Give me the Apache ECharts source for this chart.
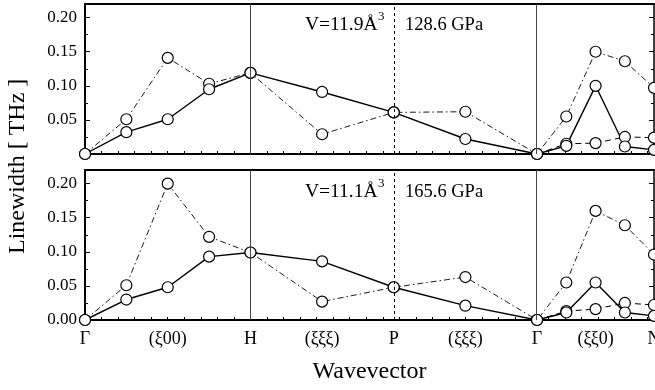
<!DOCTYPE html>
<html>
<head>
<meta charset="utf-8">
<script src="https://cdn.jsdelivr.net/npm/echarts@6/dist/echarts.min.js"></script>
<style>
html,body{margin:0;padding:0;background:#fff;}
#c{width:655px;height:390px;}
</style>
</head>
<body>
<div id="c"></div>
<script>
// wavevector positions (units of 2π/a along Γ-H-P-Γ-N)
const xPos = [0, 0.25, 0.5, 0.75, 1, 1.433, 1.866, 2.299, 2.732, 2.909, 3.086, 3.263, 3.439];
const xPosGN = [2.732, 2.909, 3.086, 3.263, 3.439];
const symPos = [1, 1.866, 2.732];            // H, P, Γ vertical lines
const tickLabelPos = [0, 0.5, 1, 1.433, 1.866, 2.299, 2.732, 3.086, 3.439];
const tickLabels = ['Γ', '(ξ00)', 'H', '(ξξξ)', 'P', '(ξξξ)', 'Γ', '(ξξ0)', 'N'];

// top panel: V=11.9 Å^3, 128.6 GPa
const topSolid   = [0, 0.032, 0.051, 0.095, 0.119, 0.091, 0.061, 0.022, 0, 0.012, 0.100, 0.011, 0.006];
const topDashDot = [0, 0.051, 0.141, 0.103, 0.119, 0.029, 0.061, 0.062, 0, 0.055, 0.150, 0.136, 0.097];
const topDashed  = [0, 0.015, 0.016, 0.025, 0.024];

// bottom panel: V=11.1 Å^3, 165.6 GPa
const botSolid   = [0, 0.030, 0.048, 0.093, 0.099, 0.086, 0.048, 0.021, 0, 0.011, 0.055, 0.011, 0.006];
const botDashDot = [0, 0.051, 0.200, 0.122, 0.099, 0.027, 0.048, 0.063, 0, 0.055, 0.160, 0.139, 0.096];
const botDashed  = [0, 0.013, 0.016, 0.025, 0.022];

const FONT = '"Liberation Serif", "DejaVu Serif", serif';
const chart = echarts.init(document.getElementById('c'), null, {renderer: 'canvas'});

function pairs(xs, ys) { return xs.map((x, i) => [x, ys[i]]); }

function xBottom(gi, withLabels) {
  return {
    type: 'value', gridIndex: gi, position: 'bottom', min: 0, max: 3.439, interval: 0.1,
    axisLine: {show: true, onZero: false, lineStyle: {color: '#000', width: 2}},
    axisTick: {show: true, inside: true, length: 3, lineStyle: {color: '#000', width: 1}},
    splitLine: {show: false},
    axisLabel: withLabels ? {
      show: true, customValues: tickLabelPos, margin: 10, hideOverlap: false,
      color: '#000', fontFamily: FONT, fontSize: 18,
      formatter: function (v) {
        for (let i = 0; i < tickLabelPos.length; i++) if (Math.abs(tickLabelPos[i] - v) < 1e-6) return tickLabels[i];
        return '';
      }
    } : {show: false},
    name: withLabels ? 'Wavevector' : '',
    nameLocation: 'middle', nameGap: 40,
    nameTextStyle: {color: '#000', fontFamily: FONT, fontSize: 24}
  };
}
function xTop(gi) {
  return {
    type: 'value', gridIndex: gi, position: 'top', min: 0, max: 3.439,
    axisLine: {show: true, onZero: false, lineStyle: {color: '#000', width: 2}},
    axisTick: {show: false}, axisLabel: {show: false}, splitLine: {show: false}
  };
}
function yLeft(gi, showZero) {
  return {
    type: 'value', gridIndex: gi, position: 'left', min: 0, max: 0.22, interval: 0.05,
    axisLine: {show: true, onZero: false, lineStyle: {color: '#000', width: 2}},
    axisTick: {show: true, inside: true, length: 5, lineStyle: {color: '#000', width: 1}},
    minorTick: {show: true, splitNumber: 2, length: 3, lineStyle: {color: '#000', width: 1}},
    splitLine: {show: false}, minorSplitLine: {show: false},
    axisLabel: {
      show: true, margin: 8, color: '#000', fontFamily: FONT, fontSize: 17,
      formatter: function (v) {
        const k = Math.round(v / 0.05);
        if (Math.abs(k * 0.05 - v) > 1e-6) return '';
        if (k === 0 && !showZero) return '';
        return v.toFixed(2);
      }
    }
  };
}
function yRight(gi) {
  return {
    type: 'value', gridIndex: gi, position: 'right', min: 0, max: 0.22, interval: 0.05,
    axisLine: {show: true, onZero: false, lineStyle: {color: '#000', width: 1.5}},
    axisTick: {show: true, inside: true, length: 5, lineStyle: {color: '#000', width: 1}},
    minorTick: {show: true, splitNumber: 2, length: 3, lineStyle: {color: '#000', width: 1}},
    splitLine: {show: false}, axisLabel: {show: false}
  };
}

const circle = {symbol: 'circle', symbolSize: 11, itemStyle: {color: '#fff', borderColor: '#000', borderWidth: 1.2}};
function line(xi, yi, data, type, width) {
  return Object.assign({
    type: 'line', xAxisIndex: xi, yAxisIndex: yi, data: data, z: 3, silent: true, animation: false,
    lineStyle: {color: '#000', width: width, type: type}, clip: false
  }, circle);
}
function vlines(xi, yi) {
  return {
    type: 'line', xAxisIndex: xi, yAxisIndex: yi, data: [], z: 1, silent: true, animation: false,
    markLine: {
      silent: true, symbol: 'none', animation: false, label: {show: false},
      data: [
        {xAxis: symPos[0], lineStyle: {color: '#444', width: 1, type: 'solid'}},
        {xAxis: symPos[1], lineStyle: {color: '#000', width: 1, type: [3, 3]}},
        {xAxis: symPos[2], lineStyle: {color: '#444', width: 1, type: 'solid'}}
      ]
    }
  };
}
const DASHDOT = [6, 3, 1.5, 3];
const DASHED = [6, 4];

function ann(x, y, main) {
  return [
    {type: 'text', left: x, top: y, style: {text: main, font: '19.5px ' + FONT, fill: '#000'}},
    {type: 'text', left: x + 73, top: y - 5, style: {text: '3', font: '13px ' + FONT, fill: '#000'}}
  ];
}

chart.setOption({
  animation: false,
  backgroundColor: '#fff',
  grid: [
    {left: 85, top: 4, width: 569, height: 150, containLabel: false, outerBoundsMode: 'none'},
    {left: 85, top: 170, width: 569, height: 150, containLabel: false, outerBoundsMode: 'none'}
  ],
  xAxis: [xBottom(0, false), xTop(0), xBottom(1, true), xTop(1)],
  yAxis: [yLeft(0, false), yRight(0), yLeft(1, true), yRight(1)],
  series: [
    vlines(0, 0),
    line(0, 0, pairs(xPos, topDashDot), DASHDOT, 0.9),
    line(0, 0, pairs(xPosGN, topDashed), DASHED, 1),
    line(0, 0, pairs(xPos, topSolid), 'solid', 1.4),
    vlines(2, 2),
    line(2, 2, pairs(xPos, botDashDot), DASHDOT, 0.9),
    line(2, 2, pairs(xPosGN, botDashed), DASHED, 1),
    line(2, 2, pairs(xPos, botSolid), 'solid', 1.4)
  ],
  graphic: [].concat(
    ann(305, 15, 'V=11.9Å'),
    [{type: 'text', left: 405, top: 16, style: {text: '128.6 GPa', font: '18.5px ' + FONT, fill: '#000'}}],
    ann(305, 182, 'V=11.1Å'),
    [{type: 'text', left: 405, top: 183, style: {text: '165.6 GPa', font: '18.5px ' + FONT, fill: '#000'}}],
    [{type: 'text', rotation: Math.PI / 2, x: 6, y: 254, style: {text: 'Linewidth [ THz ]', font: '24px ' + FONT, fill: '#000'}}]
  )
});
</script>
</body>
</html>
